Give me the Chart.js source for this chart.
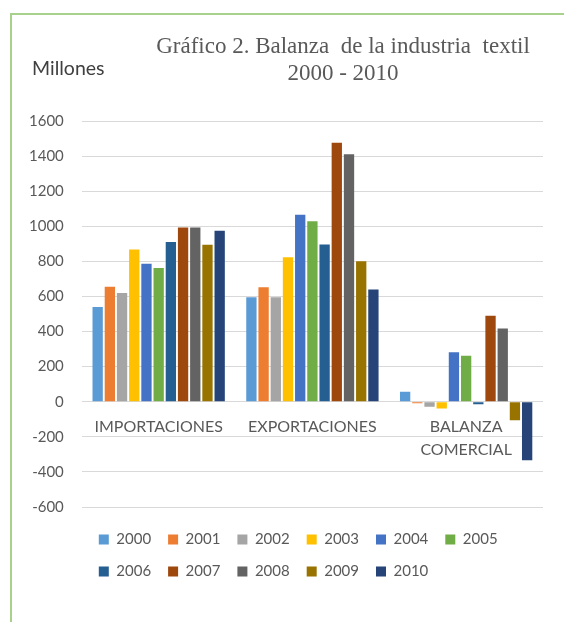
<!DOCTYPE html>
<html>
<head>
<meta charset="utf-8">
<script src="https://cdn.jsdelivr.net/npm/chart.js@4.4.0/dist/chart.umd.min.js"></script>
<style>
  html, body { margin: 0; padding: 0; background: #fff; overflow: hidden; }
  #wrap { position: relative; width: 564px; height: 622px; }
  #frame { position: absolute; left: 10px; top: 13px; width: 640px; height: 700px;
           border-top: 2px solid #a9d18e; border-left: 2px solid #a9d18e; }
  #chart { position: absolute; left: 0; top: 0; }
  .title { position: absolute; left: 143px; top: 32px; width: 400px; text-align: center;
           font-family: "Liberation Serif", serif; font-size: 23px; line-height: 27px;
           color: #595959; white-space: pre; }
  .unit { position: absolute; left: 32px; top: 56px; font-family: Lato, sans-serif;
          font-size: 19.5px; color: #404040; }
</style>
</head>
<body>
<div id="wrap">
  <div id="frame"></div>
  <canvas id="chart" width="564" height="622"></canvas>
  <div class="title">Gráfico 2. Balanza  de la industria  textil
2000 - 2010</div>
  <div class="unit">Millones</div>
</div>
<script>
// Data (millones)
const categories = ["IMPORTACIONES", "EXPORTACIONES", ["BALANZA", "COMERCIAL"]];
const years = ["2000", "2001", "2002", "2003", "2004", "2005", "2006", "2007", "2008", "2009", "2010"];
const importaciones = [540, 655, 620, 868, 787, 762, 910, 993, 993, 895, 975];
const exportaciones = [596, 653, 596, 823, 1065, 1028, 896, 1476, 1410, 800, 640];
const balanza = [57, -8, -28, -38, 282, 262, -15, 490, 418, -105, -333];
const yTicks = [-600, -400, -200, 0, 200, 400, 600, 800, 1000, 1200, 1400, 1600];

const colors = ["#5B9BD5", "#ED7D31", "#A5A5A5", "#FFC000", "#4472C4", "#70AD47",
                "#255E91", "#9E480E", "#636363", "#997300", "#264478"];

const datasets = years.map(function (y, i) {
    return {
        label: y,
        data: [importaciones[i], exportaciones[i], balanza[i]],
        backgroundColor: colors[i],
        categoryPercentage: 0.873,
        barPercentage: 0.845
    };
});

const gray = "#595959";

new Chart(document.getElementById("chart"), {
    type: "bar",
    data: { labels: categories, datasets: datasets },
    options: {
        responsive: false,
        animation: false,
        layout: { padding: { left: 11, right: 21, top: 121, bottom: 33 } },
        scales: {
            x: {
                position: { y: 0 },
                grid: { display: false },
                border: { display: false },
                ticks: {
                    color: gray,
                    font: { family: "Lato", size: 16, lineHeight: 1.44 },
                    padding: 6,
                    maxRotation: 0,
                    autoSkip: false
                }
            },
            y: {
                min: yTicks[0],
                max: yTicks[yTicks.length - 1],
                grid: { color: "#d9d9d9", drawTicks: false },
                border: { display: false },
                ticks: {
                    stepSize: 200,
                    color: gray,
                    font: { family: "Lato", size: 15 },
                    padding: 18,
                    callback: function (v) { return String(v); }
                }
            }
        },
        plugins: {
            tooltip: { enabled: false },
            legend: {
                position: "bottom",
                fullSize: false,
                align: "start",
                title: { display: true, text: "", padding: 0, font: { size: 8, lineHeight: 1 } },
                labels: {
                    boxWidth: 10,
                    boxHeight: 10,
                    padding: 17,
                    color: gray,
                    font: { family: "Lato", size: 15 }
                }
            }
        }
    }
});
</script>
</body>
</html>
